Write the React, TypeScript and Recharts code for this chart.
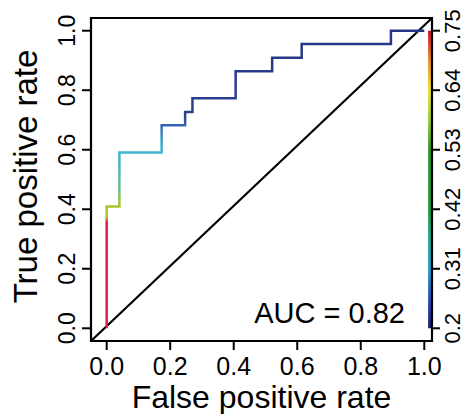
import React from 'react';
import { LineChart, Line, XAxis, YAxis, ReferenceArea, ReferenceLine } from 'recharts';

// ROC corner points (step curve, y changes before x)
const fpr = [0, 0.04, 0.173, 0.247, 0.27, 0.406, 0.521, 0.614, 0.895, 1];
const tpr = [0, 0.409, 0.591, 0.682, 0.727, 0.773, 0.864, 0.909, 0.955, 1];
const rateTicks = [0, 0.2, 0.4, 0.6, 0.8, 1];
const cutoffTicks = [0.2, 0.31, 0.42, 0.53, 0.64, 0.75];
const auc = 0.82;

const xDomain = [-0.0494, 1.0243];
const yDomain = [-0.0427, 1.0427];
const cutPad = (0.75 - 0.2) * 0.0427;
const cutDomain = [0.2 - cutPad, 0.75 + cutPad];

const FONT = '"Liberation Sans", Arial, Helvetica, sans-serif';

const rocData = fpr.map((x, i) => ({ x, y: tpr[i] }));

const LeftTick = (props: any) => {
  const { x, y, payload } = props;
  const bx = x - 5;
  return (
    <text x={bx} y={y} transform={`rotate(-90, ${bx}, ${y})`} textAnchor="middle" fontSize={23} fontFamily={FONT} fill="#000">
      {Number(payload.value).toFixed(1)}
    </text>
  );
};

const RightTick = (props: any) => {
  const { x, y, payload } = props;
  const bx = x + 18;
  return (
    <text x={bx} y={y} transform={`rotate(-90, ${bx}, ${y})`} textAnchor="middle" fontSize={22} fontFamily={FONT} fill="#000">
      {String(payload.value)}
    </text>
  );
};

const BottomTick = (props: any) => {
  const { x, y, payload } = props;
  return (
    <text x={x} y={y + 23} textAnchor="middle" fontSize={25} fontFamily={FONT} fill="#000">
      {Number(payload.value).toFixed(1)}
    </text>
  );
};

const XTitle = (props: any) => {
  const vb = props.viewBox || { x: 91, y: 341, width: 341, height: 73 };
  return (
    <text x={vb.x + vb.width / 2} y={vb.y + 67} textAnchor="middle" fontSize={32} fontFamily={FONT} fill="#000">
      False positive rate
    </text>
  );
};

const YTitle = (props: any) => {
  const vb = props.viewBox || { x: 0, y: 18, width: 91, height: 323 };
  const cx = vb.x + 37;
  const cy = vb.y + vb.height / 2 - 3;
  return (
    <text x={cx} y={cy} transform={`rotate(-90, ${cx}, ${cy})`} textAnchor="middle" fontSize={33} fontFamily={FONT} fill="#000">
      True positive rate
    </text>
  );
};

const AucLabel = (props: any) => {
  const vb = props.viewBox || { x: 91, y: 18, width: 341, height: 323 };
  return (
    <text x={vb.x + vb.width - 27} y={vb.y + vb.height - 18} textAnchor="end" fontSize={29} fontFamily={FONT} fill="#000">
      {`AUC = ${auc.toFixed(2)}`}
    </text>
  );
};

export default function App() {
  return (
    <div style={{ position: 'absolute', left: 0, top: 0, width: 466, height: 414, background: '#fff' }}>
      <LineChart width={466} height={414} data={rocData} margin={{ top: 18, right: 0, bottom: 0, left: 0 }}>
        <defs>
          <linearGradient id="rocGrad" x1="0" y1="1" x2="0" y2="0">
            <stop offset="0" stopColor="#e31a4a" />
            <stop offset="0.355" stopColor="#e31a4a" />
            <stop offset="0.375" stopColor="#b9c51a" />
            <stop offset="0.415" stopColor="#a6c62a" />
            <stop offset="0.46" stopColor="#6cbf7a" />
            <stop offset="0.55" stopColor="#45b9bd" />
            <stop offset="0.6" stopColor="#3cb5d2" />
            <stop offset="0.63" stopColor="#3aa4cc" />
            <stop offset="0.68" stopColor="#3468b0" />
            <stop offset="0.71" stopColor="#2a4290" />
            <stop offset="1" stopColor="#263583" />
          </linearGradient>
          <linearGradient id="cutGrad" x1="0" y1="1" x2="0" y2="0">
            <stop offset="0" stopColor="#1c1f6e" />
            <stop offset="0.08" stopColor="#2a40b0" />
            <stop offset="0.2" stopColor="#1ea0d0" />
            <stop offset="0.3" stopColor="#20a890" />
            <stop offset="0.4" stopColor="#1f9a3a" />
            <stop offset="0.6" stopColor="#2a9a28" />
            <stop offset="0.7" stopColor="#9ac830" />
            <stop offset="0.8" stopColor="#f0e030" />
            <stop offset="0.9" stopColor="#f08a20" />
            <stop offset="1" stopColor="#d0102a" />
          </linearGradient>
        </defs>
        <XAxis
          dataKey="x"
          type="number"
          domain={xDomain}
          ticks={rateTicks}
          interval={0}
          allowDataOverflow
          height={73}
          tickSize={9}
          axisLine={false}
          tickLine={{ stroke: '#000', strokeWidth: 2 }}
          tick={<BottomTick />}
          label={{ content: XTitle }}
        />
        <YAxis
          yAxisId="left"
          type="number"
          domain={yDomain}
          ticks={rateTicks}
          interval={0}
          allowDataOverflow
          width={91}
          tickSize={9}
          axisLine={false}
          tickLine={{ stroke: '#000', strokeWidth: 2 }}
          tick={<LeftTick />}
          label={{ content: YTitle }}
        />
        <YAxis
          yAxisId="right"
          orientation="right"
          type="number"
          domain={cutDomain}
          ticks={cutoffTicks}
          interval={0}
          allowDataOverflow
          width={34}
          tickSize={8}
          axisLine={false}
          tickLine={{ stroke: '#000', strokeWidth: 2 }}
          tick={<RightTick />}
        />
        <ReferenceArea
          yAxisId="right"
          x1={1.012}
          x2={xDomain[1]}
          y1={cutoffTicks[0]}
          y2={cutoffTicks[cutoffTicks.length - 1]}
          fill="url(#cutGrad)"
          fillOpacity={1}
          stroke="none"
        />
        <ReferenceLine
          yAxisId="left"
          segment={[{ x: xDomain[0], y: yDomain[0] }, { x: xDomain[1], y: yDomain[1] }]}
          stroke="#000"
          strokeWidth={2.2}
          ifOverflow="visible"
        />
        <Line
          yAxisId="left"
          dataKey="y"
          type="stepBefore"
          stroke="url(#rocGrad)"
          strokeWidth={2.5}
          dot={false}
          activeDot={false}
          isAnimationActive={false}
        />
        <ReferenceArea
          yAxisId="left"
          x1={xDomain[0]}
          x2={xDomain[1]}
          y1={yDomain[0]}
          y2={yDomain[1]}
          fill="none"
          stroke="#000"
          strokeWidth={2.2}
          label={{ content: AucLabel }}
        />
      </LineChart>
    </div>
  );
}
